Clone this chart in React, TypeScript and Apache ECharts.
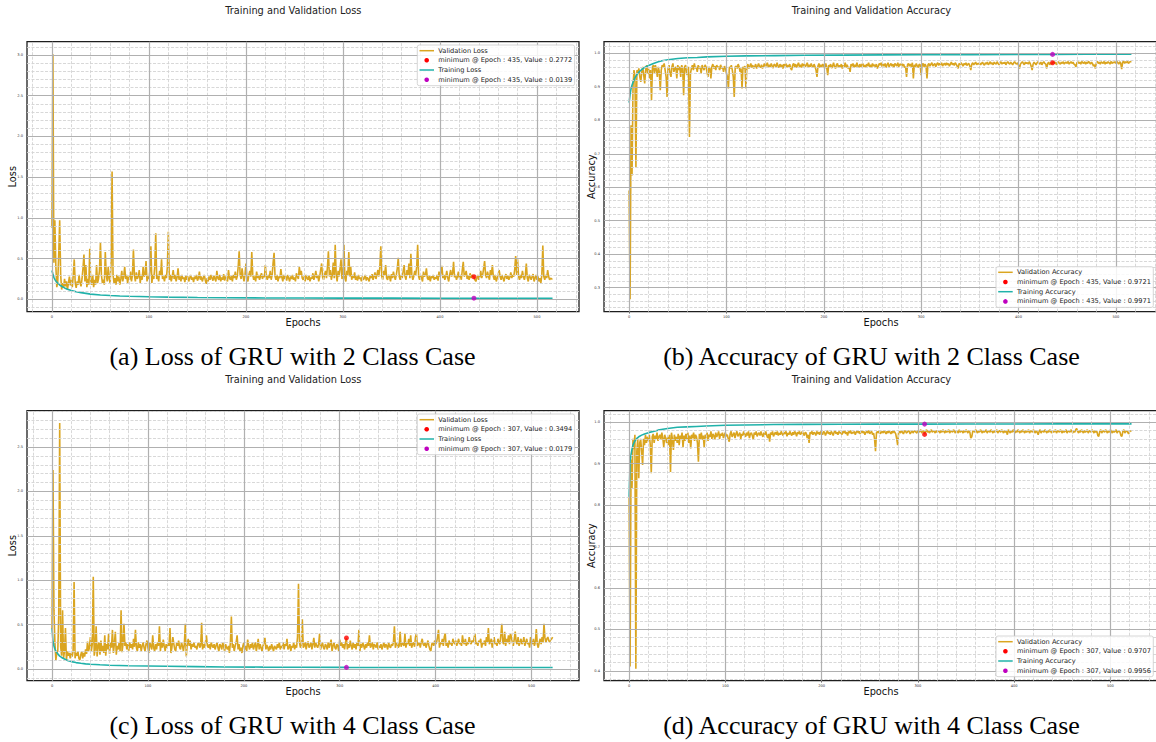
import React, { useEffect, useRef } from "react";
import * as echarts from "echarts";

// ---------- data ----------
const EPOCH_TICKS = [0, 100, 200, 300, 400, 500];
const LOSS_A_TICKS = [0, 0.5, 1.0, 1.5, 2.0, 2.5, 3.0];
const ACC_B_TICKS = [0.3, 0.4, 0.5, 0.6, 0.7, 0.8, 0.9, 1.0];
const LOSS_C_TICKS = [0, 0.5, 1.0, 1.5, 2.0, 2.5];
const ACC_D_TICKS = [0.4, 0.5, 0.6, 0.7, 0.8, 0.9, 1.0];

// (a) validation loss, one value per epoch 0..516
const valLossA = [
  0.88,3.01,0.45,0.97,0.42,0.15,0.22,0.55,0.97,0.30,0.12,0.20,0.14,0.25,0.16,0.22,0.12,0.20,0.28,0.17,
  0.24,0.15,0.30,0.49,0.20,0.14,0.22,0.18,0.30,0.20,0.16,0.25,0.38,0.55,0.22,0.42,0.15,0.25,0.18,0.62,
  0.20,0.18,0.30,0.15,0.24,0.18,0.42,0.20,0.25,0.35,0.70,0.30,0.20,0.24,0.18,0.58,0.30,0.22,0.40,0.25,
  0.20,0.45,1.57,0.30,0.20,0.26,0.18,0.30,0.22,0.28,0.18,0.25,0.35,0.22,0.28,0.40,0.25,0.30,0.20,0.28,
  0.24,0.34,0.22,0.30,0.61,0.30,0.22,0.33,0.25,0.28,0.36,0.20,0.30,0.24,0.40,0.28,0.30,0.47,0.22,0.28,
  0.25,0.35,0.65,0.20,0.30,0.25,0.40,0.81,0.25,0.30,0.22,0.35,0.30,0.49,0.25,0.28,0.22,0.30,0.26,0.40,
  0.83,0.24,0.30,0.22,0.28,0.36,0.25,0.30,0.22,0.27,0.38,0.24,0.28,0.22,0.30,0.25,0.27,0.21,0.29,0.24,
  0.28,0.22,0.26,0.30,0.24,0.27,0.21,0.28,0.25,0.30,0.23,0.26,0.34,0.24,0.28,0.22,0.26,0.30,0.24,0.19,
  0.26,0.22,0.28,0.24,0.30,0.26,0.23,0.29,0.25,0.22,0.35,0.26,0.24,0.30,0.22,0.27,0.24,0.31,0.23,0.28,
  0.25,0.22,0.36,0.26,0.24,0.29,0.22,0.30,0.26,0.34,0.24,0.28,0.40,0.59,0.30,0.25,0.38,0.28,0.22,0.30,
  0.44,0.26,0.22,0.30,0.35,0.28,0.58,0.30,0.24,0.28,0.22,0.34,0.26,0.30,0.24,0.28,0.32,0.25,0.30,0.27,
  0.42,0.28,0.24,0.30,0.26,0.35,0.24,0.30,0.45,0.57,0.28,0.24,0.30,0.22,0.28,0.26,0.37,0.27,0.22,0.30,
  0.25,0.28,0.23,0.30,0.26,0.22,0.28,0.25,0.30,0.24,0.27,0.22,0.32,0.28,0.25,0.40,0.30,0.35,0.26,0.24,
  0.28,0.22,0.30,0.26,0.24,0.29,0.22,0.27,0.25,0.32,0.24,0.28,0.35,0.26,0.30,0.22,0.28,0.36,0.44,0.27,
  0.24,0.30,0.35,0.26,0.40,0.59,0.28,0.36,0.24,0.30,0.45,0.26,0.67,0.30,0.22,0.35,0.28,0.38,0.49,0.25,
  0.30,0.67,0.26,0.22,0.35,0.30,0.58,0.28,0.40,0.24,0.30,0.26,0.33,0.24,0.28,0.23,0.30,0.25,0.27,0.22,
  0.28,0.24,0.26,0.30,0.23,0.27,0.25,0.22,0.29,0.26,0.31,0.24,0.28,0.33,0.25,0.30,0.36,0.28,0.40,0.65,
  0.28,0.24,0.35,0.30,0.42,0.26,0.24,0.30,0.28,0.22,0.31,0.26,0.34,0.28,0.24,0.30,0.38,0.51,0.28,0.24,
  0.30,0.26,0.34,0.42,0.28,0.24,0.36,0.30,0.44,0.26,0.56,0.30,0.24,0.28,0.35,0.30,0.40,0.67,0.28,0.24,
  0.30,0.26,0.22,0.34,0.28,0.30,0.38,0.26,0.24,0.29,0.22,0.28,0.26,0.30,0.24,0.27,0.25,0.30,0.23,0.34,
  0.28,0.33,0.41,0.26,0.30,0.24,0.28,0.35,0.26,0.22,0.30,0.36,0.28,0.32,0.46,0.27,0.30,0.24,0.28,0.34,
  0.26,0.30,0.24,0.36,0.46,0.28,0.30,0.35,0.25,0.29,0.24,0.32,0.26,0.30,0.28,0.2772,0.24,0.22,0.26,0.30,
  0.24,0.28,0.35,0.26,0.30,0.38,0.47,0.30,0.26,0.34,0.28,0.24,0.36,0.30,0.42,0.28,0.24,0.30,0.22,0.26,
  0.30,0.36,0.28,0.24,0.30,0.26,0.22,0.28,0.31,0.25,0.29,0.24,0.27,0.33,0.26,0.30,0.28,0.36,0.53,0.30,
  0.49,0.28,0.24,0.30,0.26,0.35,0.28,0.24,0.30,0.44,0.26,0.22,0.30,0.27,0.24,0.28,0.31,0.22,0.26,0.30,
  0.24,0.28,0.22,0.26,0.20,0.30,0.66,0.28,0.24,0.30,0.26,0.36,0.28,0.24,0.26,0.25,0.25,
];
const trainEpochsA = [0,1,2,3,4,6,8,10,13,16,20,25,30,35,40,50,60,70,80,100,120,150,180,220,260,300,350,400,435,470,516];
const trainLossA = [0.354,0.31,0.27,0.245,0.225,0.2,0.175,0.16,0.14,0.125,0.107,0.093,0.082,0.073,0.064,0.053,0.046,0.041,0.037,0.031,0.027,0.022,0.019,0.017,0.016,0.015,0.0145,0.014,0.0139,0.014,0.014];

// (b) validation accuracy, one value per epoch 0..516
const valAccB = [
  0.59,0.265,0.785,0.635,0.90,0.95,0.93,0.66,0.95,0.94,0.955,0.93,0.915,0.945,0.96,0.935,0.91,0.95,0.965,0.94,
  0.955,0.925,0.95,0.86,0.96,0.965,0.94,0.965,0.95,0.93,0.96,0.945,0.89,0.95,0.965,0.96,0.97,0.95,0.93,0.87,
  0.955,0.965,0.94,0.93,0.96,0.97,0.945,0.955,0.96,0.925,0.965,0.95,0.96,0.93,0.965,0.955,0.875,0.96,0.965,0.94,
  0.935,0.96,0.75,0.94,0.955,0.965,0.95,0.97,0.955,0.96,0.945,0.965,0.955,0.96,0.94,0.965,0.958,0.95,0.966,0.96,
  0.945,0.93,0.96,0.955,0.925,0.96,0.968,0.955,0.962,0.95,0.965,0.958,0.96,0.95,0.966,0.955,0.96,0.945,0.962,0.955,
  0.94,0.93,0.895,0.96,0.955,0.965,0.95,0.93,0.87,0.96,0.962,0.955,0.968,0.96,0.945,0.955,0.895,0.96,0.955,0.962,
  0.895,0.96,0.968,0.955,0.962,0.97,0.958,0.965,0.955,0.96,0.968,0.955,0.962,0.97,0.96,0.958,0.966,0.955,0.962,0.97,
  0.96,0.965,0.972,0.958,0.966,0.96,0.97,0.962,0.956,0.968,0.965,0.96,0.972,0.962,0.958,0.968,0.96,0.966,0.955,0.968,
  0.962,0.97,0.958,0.965,0.96,0.968,0.955,0.95,0.965,0.97,0.96,0.968,0.958,0.965,0.972,0.96,0.966,0.958,0.97,0.962,
  0.968,0.96,0.965,0.972,0.958,0.966,0.96,0.97,0.962,0.958,0.968,0.96,0.95,0.93,0.962,0.97,0.958,0.966,0.96,0.968,
  0.962,0.955,0.97,0.958,0.935,0.965,0.96,0.968,0.956,0.962,0.972,0.96,0.955,0.966,0.97,0.958,0.964,0.96,0.968,0.955,
  0.965,0.96,0.972,0.958,0.966,0.955,0.96,0.945,0.968,0.962,0.97,0.958,0.966,0.96,0.972,0.962,0.958,0.968,0.96,0.966,
  0.97,0.96,0.965,0.958,0.968,0.962,0.972,0.96,0.966,0.958,0.97,0.962,0.966,0.96,0.968,0.955,0.962,0.97,0.965,0.972,
  0.96,0.968,0.962,0.97,0.958,0.966,0.972,0.96,0.965,0.97,0.962,0.968,0.958,0.97,0.966,0.962,0.972,0.96,0.968,0.965,
  0.97,0.962,0.968,0.958,0.96,0.93,0.966,0.97,0.962,0.968,0.96,0.972,0.925,0.966,0.96,0.97,0.962,0.958,0.968,0.966,
  0.935,0.966,0.97,0.96,0.968,0.962,0.925,0.966,0.97,0.962,0.968,0.972,0.962,0.966,0.97,0.96,0.968,0.972,0.964,0.97,
  0.966,0.972,0.962,0.968,0.97,0.964,0.972,0.966,0.97,0.962,0.968,0.974,0.966,0.97,0.964,0.972,0.968,0.962,0.955,0.97,
  0.966,0.972,0.968,0.962,0.97,0.966,0.972,0.964,0.968,0.97,0.962,0.95,0.968,0.972,0.966,0.97,0.974,0.966,0.97,0.968,
  0.972,0.966,0.97,0.974,0.968,0.965,0.972,0.968,0.974,0.966,0.97,0.975,0.968,0.972,0.966,0.974,0.97,0.968,0.975,0.97,
  0.966,0.972,0.975,0.968,0.972,0.97,0.974,0.966,0.972,0.975,0.97,0.968,0.974,0.97,0.966,0.972,0.975,0.97,0.968,0.972,
  0.965,0.955,0.968,0.972,0.975,0.97,0.966,0.974,0.97,0.972,0.968,0.975,0.97,0.962,0.95,0.968,0.974,0.97,0.966,0.972,
  0.975,0.97,0.968,0.974,0.966,0.972,0.975,0.97,0.968,0.955,0.97,0.974,0.966,0.972,0.968,0.9721,0.975,0.97,0.974,0.966,
  0.972,0.975,0.97,0.968,0.974,0.97,0.975,0.968,0.972,0.974,0.97,0.976,0.968,0.972,0.975,0.97,0.974,0.968,0.966,0.96,
  0.972,0.975,0.97,0.974,0.968,0.976,0.972,0.97,0.975,0.968,0.974,0.97,0.976,0.972,0.968,0.974,0.97,0.962,0.966,0.955,
  0.972,0.976,0.97,0.974,0.968,0.975,0.972,0.97,0.976,0.968,0.974,0.97,0.975,0.972,0.968,0.976,0.97,0.974,0.972,0.975,
  0.97,0.976,0.972,0.968,0.975,0.97,0.953,0.974,0.976,0.97,0.975,0.972,0.976,0.97,0.974,0.975,0.976,
];
const trainEpochsB = [0,1,2,3,4,6,8,10,13,16,20,25,30,35,40,50,60,70,80,100,120,150,180,220,260,300,350,400,435,470,516];
const trainAccB = [0.853,0.878,0.895,0.905,0.914,0.927,0.937,0.944,0.952,0.958,0.964,0.97,0.975,0.979,0.981,0.985,0.987,0.988,0.9895,0.9915,0.9925,0.9935,0.9945,0.995,0.9955,0.996,0.9965,0.997,0.9971,0.9973,0.9975];

// (c) validation loss, one value per epoch 0..522
const valLossC = [
  0.45,2.24,0.66,0.30,0.10,0.18,0.20,0.60,2.77,0.25,0.15,0.66,0.12,0.20,0.46,0.10,0.20,0.15,0.18,0.12,
  0.18,0.14,0.20,0.98,0.12,0.18,0.15,0.20,0.12,0.10,0.16,0.20,0.12,0.18,0.14,0.22,0.17,0.31,0.20,0.24,
  0.36,0.20,0.28,1.04,0.15,0.22,0.48,0.14,0.26,0.30,0.16,0.32,0.20,0.26,0.18,0.38,0.15,0.28,0.22,0.40,
  0.17,0.30,0.24,0.44,0.18,0.28,0.42,0.16,0.26,0.22,0.30,0.20,0.66,0.19,0.28,0.51,0.26,0.30,0.22,0.28,
  0.20,0.30,0.24,0.28,0.22,0.34,0.25,0.44,0.24,0.20,0.30,0.24,0.28,0.20,0.26,0.30,0.24,0.20,0.28,0.32,
  0.24,0.18,0.30,0.26,0.22,0.38,0.24,0.20,0.28,0.22,0.30,0.26,0.48,0.20,0.30,0.24,0.33,0.26,0.20,0.28,
  0.24,0.30,0.26,0.46,0.18,0.24,0.36,0.28,0.22,0.20,0.30,0.26,0.32,0.24,0.22,0.30,0.26,0.20,0.28,0.51,
  0.14,0.28,0.34,0.26,0.32,0.22,0.28,0.25,0.30,0.24,0.26,0.22,0.28,0.30,0.24,0.26,0.52,0.22,0.28,0.24,
  0.30,0.38,0.26,0.24,0.28,0.22,0.30,0.26,0.24,0.28,0.22,0.26,0.30,0.24,0.20,0.28,0.26,0.22,0.30,0.25,
  0.20,0.28,0.24,0.22,0.26,0.18,0.30,0.59,0.24,0.28,0.20,0.26,0.30,0.38,0.22,0.28,0.20,0.24,0.18,0.26,
  0.30,0.22,0.26,0.20,0.33,0.26,0.22,0.28,0.24,0.30,0.22,0.26,0.30,0.20,0.26,0.34,0.22,0.28,0.24,0.20,
  0.26,0.30,0.35,0.22,0.27,0.24,0.20,0.26,0.22,0.28,0.24,0.20,0.26,0.24,0.22,0.28,0.24,0.30,0.22,0.26,
  0.24,0.30,0.22,0.28,0.26,0.34,0.22,0.24,0.28,0.20,0.26,0.24,0.30,0.22,0.27,0.24,0.36,0.96,0.30,0.24,
  0.28,0.56,0.24,0.26,0.30,0.22,0.28,0.31,0.24,0.26,0.30,0.22,0.28,0.35,0.24,0.30,0.26,0.24,0.28,0.40,
  0.22,0.26,0.30,0.24,0.22,0.28,0.26,0.22,0.30,0.24,0.28,0.33,0.20,0.26,0.30,0.24,0.22,0.28,0.26,0.20,
  0.33,0.26,0.30,0.24,0.28,0.22,0.30,0.3494,0.22,0.28,0.24,0.32,0.26,0.22,0.30,0.24,0.28,0.22,0.30,0.26,
  0.44,0.20,0.28,0.24,0.30,0.26,0.22,0.28,0.24,0.30,0.26,0.38,0.24,0.26,0.30,0.22,0.28,0.26,0.24,0.30,
  0.22,0.26,0.24,0.28,0.22,0.26,0.30,0.24,0.28,0.26,0.22,0.30,0.25,0.24,0.28,0.26,0.30,0.48,0.24,0.28,
  0.30,0.24,0.26,0.42,0.25,0.30,0.28,0.26,0.40,0.24,0.30,0.28,0.34,0.26,0.38,0.24,0.28,0.30,0.25,0.36,
  0.40,0.26,0.28,0.30,0.24,0.30,0.34,0.28,0.26,0.30,0.24,0.28,0.32,0.26,0.22,0.20,0.28,0.30,0.26,0.32,
  0.28,0.30,0.36,0.44,0.24,0.30,0.28,0.34,0.26,0.36,0.40,0.26,0.30,0.24,0.32,0.28,0.30,0.26,0.34,0.30,
  0.28,0.32,0.26,0.30,0.34,0.28,0.30,0.26,0.38,0.30,0.28,0.34,0.26,0.30,0.28,0.36,0.30,0.28,0.32,0.30,
  0.34,0.40,0.28,0.30,0.26,0.32,0.30,0.34,0.24,0.30,0.28,0.32,0.26,0.36,0.30,0.46,0.28,0.30,0.34,0.24,
  0.30,0.36,0.28,0.30,0.26,0.34,0.30,0.28,0.38,0.51,0.30,0.28,0.42,0.26,0.34,0.30,0.38,0.28,0.40,0.36,
  0.30,0.26,0.34,0.42,0.30,0.28,0.36,0.26,0.30,0.34,0.28,0.30,0.36,0.26,0.30,0.34,0.28,0.30,0.24,0.36,
  0.30,0.28,0.34,0.26,0.30,0.45,0.28,0.24,0.30,0.34,0.28,0.36,0.30,0.51,0.35,0.30,0.34,0.36,0.32,0.30,0.33,0.34,0.36,
];
const trainEpochsC = [0,1,2,3,4,6,8,10,13,16,20,25,30,35,40,50,60,70,80,100,120,150,180,220,260,307,350,400,450,522];
const trainLossC = [0.457,0.31,0.26,0.225,0.2,0.17,0.145,0.13,0.112,0.097,0.083,0.072,0.064,0.058,0.054,0.047,0.042,0.039,0.036,0.033,0.03,0.026,0.023,0.021,0.02,0.0179,0.0175,0.017,0.017,0.0165];

// (d) validation accuracy, one value per epoch 0..522
const valAccD = [
  0.82,0.41,0.91,0.84,0.96,0.935,0.97,0.405,0.93,0.96,0.865,0.95,0.96,0.93,0.897,0.96,0.945,0.97,0.95,0.965,
  0.955,0.97,0.945,0.877,0.965,0.972,0.95,0.968,0.96,0.975,0.955,0.965,0.97,0.958,0.975,0.962,0.94,0.97,0.96,0.95,
  0.965,0.945,0.97,0.88,0.975,0.96,0.933,0.97,0.955,0.965,0.95,0.972,0.945,0.968,0.96,0.975,0.94,0.968,0.955,0.972,
  0.96,0.975,0.95,0.968,0.937,0.97,0.962,0.975,0.955,0.97,0.965,0.95,0.905,0.972,0.96,0.975,0.958,0.968,0.94,0.97,
  0.962,0.975,0.955,0.97,0.965,0.978,0.96,0.972,0.968,0.958,0.975,0.965,0.97,0.978,0.96,0.972,0.968,0.975,0.962,0.97,
  0.975,0.966,0.97,0.96,0.953,0.972,0.978,0.965,0.97,0.975,0.962,0.972,0.978,0.966,0.97,0.975,0.96,0.972,0.968,0.978,
  0.97,0.965,0.975,0.968,0.978,0.962,0.972,0.975,0.968,0.958,0.975,0.97,0.978,0.966,0.972,0.975,0.968,0.978,0.97,0.965,
  0.975,0.97,0.978,0.968,0.962,0.972,0.953,0.975,0.97,0.978,0.966,0.972,0.976,0.97,0.978,0.968,0.974,0.97,0.978,0.972,
  0.968,0.976,0.972,0.978,0.966,0.974,0.97,0.978,0.972,0.968,0.976,0.97,0.978,0.974,0.966,0.976,0.972,0.978,0.97,0.974,
  0.978,0.972,0.968,0.976,0.974,0.962,0.97,0.95,0.976,0.972,0.978,0.97,0.976,0.974,0.968,0.978,0.972,0.976,0.97,0.978,
  0.974,0.97,0.978,0.976,0.968,0.974,0.98,0.972,0.976,0.97,0.978,0.974,0.968,0.976,0.98,0.972,0.976,0.97,0.978,0.974,
  0.976,0.97,0.978,0.974,0.98,0.972,0.976,0.968,0.978,0.974,0.98,0.972,0.976,0.974,0.978,0.97,0.976,0.98,0.974,0.978,
  0.972,0.976,0.98,0.974,0.978,0.97,0.976,0.978,0.974,0.98,0.972,0.976,0.978,0.97,0.974,0.96,0.93,0.975,0.978,0.974,
  0.98,0.972,0.976,0.978,0.974,0.98,0.976,0.972,0.978,0.974,0.98,0.976,0.972,0.978,0.974,0.98,0.976,0.972,0.96,0.945,
  0.975,0.978,0.974,0.98,0.976,0.972,0.978,0.98,0.974,0.976,0.98,0.978,0.972,0.976,0.98,0.974,0.978,0.98,0.976,0.974,
  0.98,0.976,0.978,0.982,0.974,0.978,0.98,0.9707,0.978,0.982,0.976,0.98,0.974,0.978,0.982,0.976,0.98,0.978,0.974,0.98,
  0.976,0.98,0.978,0.974,0.98,0.976,0.982,0.978,0.974,0.98,0.976,0.978,0.982,0.974,0.978,0.98,0.976,0.982,0.978,0.974,
  0.98,0.978,0.974,0.982,0.976,0.98,0.978,0.974,0.98,0.976,0.982,0.978,0.974,0.98,0.976,0.962,0.965,0.978,0.98,0.976,
  0.982,0.978,0.974,0.98,0.976,0.982,0.978,0.974,0.98,0.976,0.978,0.982,0.974,0.978,0.98,0.976,0.982,0.978,0.974,0.98,
  0.976,0.978,0.982,0.974,0.978,0.98,0.976,0.982,0.978,0.974,0.98,0.976,0.978,0.97,0.982,0.978,0.974,0.98,0.976,0.982,
  0.978,0.974,0.98,0.976,0.982,0.978,0.974,0.98,0.976,0.982,0.978,0.974,0.98,0.976,0.978,0.982,0.974,0.978,0.98,0.976,
  0.982,0.978,0.974,0.98,0.976,0.97,0.978,0.982,0.974,0.978,0.98,0.976,0.982,0.978,0.974,0.98,0.976,0.982,0.978,0.974,
  0.98,0.976,0.978,0.982,0.974,0.978,0.98,0.976,0.982,0.978,0.974,0.98,0.976,0.978,0.982,0.974,0.978,0.98,0.976,0.982,
  0.978,0.974,0.98,0.976,0.982,0.985,0.978,0.974,0.98,0.976,0.982,0.978,0.974,0.98,0.976,0.978,0.982,0.974,0.978,0.98,
  0.976,0.982,0.978,0.974,0.98,0.976,0.978,0.968,0.966,0.978,0.982,0.974,0.978,0.98,0.976,0.982,0.978,0.974,0.98,0.976,
  0.982,0.978,0.974,0.98,0.976,0.978,0.982,0.974,0.978,0.98,0.976,0.968,0.966,0.978,0.982,0.974,0.978,0.98,0.976,0.972,0.978,0.98,0.978,
];
const trainEpochsD = [0,1,2,3,4,6,8,10,13,16,20,25,30,35,40,50,60,70,80,100,120,150,180,220,260,307,350,400,450,522];
const trainAccD = [0.82,0.905,0.922,0.935,0.945,0.955,0.961,0.965,0.969,0.972,0.975,0.978,0.981,0.983,0.985,0.988,0.989,0.99,0.991,0.993,0.9935,0.9945,0.995,0.9953,0.9955,0.9956,0.9958,0.996,0.9962,0.9963];

// best-epoch markers [epoch, validation value, training value]
const BEST_A = [435, 0.2772, 0.0139];
const BEST_B = [435, 0.9721, 0.9971];
const BEST_C = [307, 0.3494, 0.0179];
const BEST_D = [307, 0.9707, 0.9956];

const VAL_COLOR = "#DAA520";
const TRAIN_COLOR = "#20B2AA";
const RED = "#ff0000";
const MAGENTA = "#bf00bf";
const SANS = "DejaVu Sans";

function rangeVals(start: number, end: number, step: number): number[] {
  const out: number[] = [];
  const n = Math.round((end - start) / step);
  for (let i = 0; i <= n; i++) out.push(Math.round((start + i * step) * 10000) / 10000);
  return out;
}

type Panel = {
  left: number; top: number; width: number; height: number;
  xMin: number; xMax: number; yMin: number; yMax: number;
  yMajor: number[]; yMinorStart: number; yMinorEnd: number; yMinorStep: number;
  val: number[]; trE: number[]; tr: number[]; best: number[];
  valName: string; trName: string; ylabel: string; ylabelGap: number;
  title: string; titleX: number; titleY: number;
  caption: string; captionX: number; captionY: number;
  legX: number; legY: number; legRows: number[];
};

const PANELS: Panel[] = [
  {
    left: 27, top: 41.7, width: 552, height: 270, xMin: -25.7, xMax: 543.3, yMin: -0.152, yMax: 3.163,
    yMajor: LOSS_A_TICKS, yMinorStart: -0.1, yMinorEnd: 3.1, yMinorStep: 0.1,
    val: valLossA, trE: trainEpochsA, tr: trainLossA, best: BEST_A,
    valName: "Validation Loss", trName: "Training Loss", ylabel: "Loss", ylabelGap: 14.1,
    title: "Training and Validation Loss", titleX: 293.3, titleY: 10,
    caption: "(a) Loss of GRU with 2 Class Case", captionX: 292.5, captionY: 356,
    legX: 417.3, legY: 45, legRows: [50.7, 60.3, 70, 79.7],
  },
  {
    left: 604, top: 41.7, width: 554, height: 270, xMin: -25.8, xMax: 543.3, yMin: 0.228, yMax: 1.035,
    yMajor: ACC_B_TICKS, yMinorStart: 0.24, yMinorEnd: 1.02, yMinorStep: 0.02,
    val: valAccB, trE: trainEpochsB, tr: trainAccB, best: BEST_B,
    valName: "Validation Accuracy", trName: "Training Accuracy", ylabel: "Accuracy", ylabelGap: 13,
    title: "Training and Validation Accuracy", titleX: 871.4, titleY: 10,
    caption: "(b) Accuracy of GRU with 2 Class Case", captionX: 871.5, captionY: 356,
    legX: 996, legY: 266.7, legRows: [272.3, 282, 291.7, 301.4],
  },
  {
    left: 27, top: 410.7, width: 552, height: 270, xMin: -26.1, xMax: 549.5, yMin: -0.132, yMax: 2.909,
    yMajor: LOSS_C_TICKS, yMinorStart: -0.1, yMinorEnd: 2.9, yMinorStep: 0.1,
    val: valLossC, trE: trainEpochsC, tr: trainLossC, best: BEST_C,
    valName: "Validation Loss", trName: "Training Loss", ylabel: "Loss", ylabelGap: 14.1,
    title: "Training and Validation Loss", titleX: 293.3, titleY: 379.3,
    caption: "(c) Loss of GRU with 4 Class Case", captionX: 292.5, captionY: 725.5,
    legX: 417.3, legY: 414, legRows: [419.7, 429.3, 439, 448.7],
  },
  {
    left: 604, top: 410.7, width: 554, height: 270, xMin: -26.1, xMax: 549.5, yMin: 0.376, yMax: 1.028,
    yMajor: ACC_D_TICKS, yMinorStart: 0.38, yMinorEnd: 1.02, yMinorStep: 0.02,
    val: valAccD, trE: trainEpochsD, tr: trainAccD, best: BEST_D,
    valName: "Validation Accuracy", trName: "Training Accuracy", ylabel: "Accuracy", ylabelGap: 13,
    title: "Training and Validation Accuracy", titleX: 871.4, titleY: 379.3,
    caption: "(d) Accuracy of GRU with 4 Class Case", captionX: 871.5, captionY: 725.5,
    legX: 996, legY: 636, legRows: [641.7, 651.3, 661, 670.7],
  },
];

function buildOption() {
  const grid: any[] = [];
  const xAxis: any[] = [];
  const yAxis: any[] = [];
  const series: any[] = [];
  const graphic: any[] = [];

  const xMinor = rangeVals(-20, 540, 20).filter((v) => v % 100 !== 0);

  PANELS.forEach((p, i) => {
    grid.push({
      left: p.left, top: p.top, width: p.width, height: p.height,
      show: true, borderColor: "#1e1e1e", borderWidth: 1.3, backgroundColor: "transparent",
      containLabel: false, outerBoundsMode: "none",
    });
    const nameStyle = { fontSize: 9.8, fontFamily: SANS, color: "#111", verticalAlign: "middle", align: "center" };
    xAxis.push({
      type: "value", gridIndex: i, min: p.xMin, max: p.xMax,
      axisLine: { show: false }, splitLine: { show: false },
      axisTick: { show: true, customValues: EPOCH_TICKS, length: 2, lineStyle: { color: "#333", width: 0.6 } },
      axisLabel: { customValues: EPOCH_TICKS, fontSize: 3.6, color: "#333", margin: 3, fontFamily: SANS },
      name: "Epochs", nameLocation: "middle", nameGap: 10.3, nameTextStyle: nameStyle, nameMoveOverlap: false,
    });
    yAxis.push({
      type: "value", gridIndex: i, min: p.yMin, max: p.yMax,
      axisLine: { show: false }, splitLine: { show: false },
      axisTick: { show: true, customValues: p.yMajor, length: 2, lineStyle: { color: "#333", width: 0.6 } },
      axisLabel: { customValues: p.yMajor, fontSize: 3.6, color: "#333", margin: 4, fontFamily: SANS, formatter: (v: number) => v.toFixed(1) },
      name: p.ylabel, nameLocation: "middle", nameGap: p.ylabelGap, nameRotate: 90, nameTextStyle: nameStyle, nameMoveOverlap: false,
    });

    const majorSet = new Set(p.yMajor.map((v) => v.toFixed(3)));
    const yMinor = rangeVals(p.yMinorStart, p.yMinorEnd, p.yMinorStep).filter((v) => !majorSet.has(v.toFixed(3)));

    // minor grid lines
    series.push({
      type: "line", xAxisIndex: i, yAxisIndex: i, data: [], silent: true, z: 1,
      markLine: {
        silent: true, symbol: ["none", "none"], label: { show: false }, animation: false,
        emphasis: { disabled: true },
        lineStyle: { color: "#d4d4d4", width: 0.9, type: [3, 1.5] },
        data: [...xMinor.map((v) => ({ xAxis: v })), ...yMinor.map((v) => ({ yAxis: v }))],
      },
    });
    // major grid lines
    series.push({
      type: "line", xAxisIndex: i, yAxisIndex: i, data: [], silent: true, z: 2,
      markLine: {
        silent: true, symbol: ["none", "none"], label: { show: false }, animation: false,
        emphasis: { disabled: true },
        lineStyle: { color: "#b0b0b0", width: 1.2, type: "solid" },
        data: [...EPOCH_TICKS.map((v) => ({ xAxis: v })), ...p.yMajor.map((v) => ({ yAxis: v }))],
      },
    });
    series.push({
      name: p.valName, type: "line", xAxisIndex: i, yAxisIndex: i, z: 3,
      data: p.val.map((v, k) => [k, v]), showSymbol: false, symbol: "none",
      lineStyle: { color: VAL_COLOR, width: 1.6 }, silent: true,
    });
    series.push({
      name: p.trName, type: "line", xAxisIndex: i, yAxisIndex: i, z: 4,
      data: p.trE.map((e, k) => [e, p.tr[k]]), showSymbol: false, symbol: "none",
      lineStyle: { color: TRAIN_COLOR, width: 1.6 }, silent: true,
    });
    series.push({
      type: "scatter", xAxisIndex: i, yAxisIndex: i, z: 5, symbolSize: 5, silent: true,
      data: [[p.best[0], p.best[1]]], itemStyle: { color: RED },
    });
    series.push({
      type: "scatter", xAxisIndex: i, yAxisIndex: i, z: 5, symbolSize: 5, silent: true,
      data: [[p.best[0], p.best[2]]], itemStyle: { color: MAGENTA },
    });

    // titles and captions
    graphic.push({
      type: "text", x: p.titleX, y: p.titleY, z: 50,
      style: { text: p.title, fontSize: 9.8, fontFamily: SANS, fill: "#222", align: "center", verticalAlign: "middle" },
    });
    graphic.push({
      type: "text", x: p.captionX, y: p.captionY, z: 50,
      style: { text: p.caption, fontSize: 26, fontFamily: "Liberation Serif", fill: "#000", align: "center", verticalAlign: "middle" },
    });

    // legend box
    const lx = p.legX;
    graphic.push({
      type: "rect", z: 60, shape: { x: lx, y: p.legY, width: 157.3, height: 40.7, r: 2 },
      style: { fill: "rgba(255,255,255,0.85)", stroke: "#cccccc", lineWidth: 0.8 },
    });
    const labels = [
      p.valName,
      `minimum @ Epoch : ${p.best[0]}, Value : ${p.best[1].toFixed(4)}`,
      p.trName,
      `minimum @ Epoch : ${p.best[0]}, Value : ${p.best[2].toFixed(4)}`,
    ];
    labels.forEach((t, k) => {
      const ry = p.legRows[k];
      if (k === 0 || k === 2) {
        graphic.push({
          type: "line", z: 61, shape: { x1: lx + 2.2, y1: ry, x2: lx + 16.7, y2: ry },
          style: { stroke: k === 0 ? VAL_COLOR : TRAIN_COLOR, lineWidth: 1.5 },
        });
      } else {
        graphic.push({
          type: "circle", z: 61, shape: { cx: lx + 9.4, cy: ry, r: 2.3 },
          style: { fill: k === 1 ? RED : MAGENTA },
        });
      }
      graphic.push({
        type: "text", z: 61, x: lx + 21, y: ry,
        style: { text: t, fontSize: 6.65, fontFamily: SANS, fill: "#222", align: "left", verticalAlign: "middle" },
      });
    });
  });

  return {
    animation: false,
    backgroundColor: "#ffffff",
    grid, xAxis, yAxis, series, graphic,
  };
}

export default function App() {
  const ref = useRef<HTMLDivElement>(null);
  useEffect(() => {
    if (!ref.current) return;
    const chart = echarts.init(ref.current, undefined, { renderer: "svg" });
    chart.setOption(buildOption() as any);
    return () => chart.dispose();
  }, []);
  return (
    <div
      ref={ref}
      style={{ position: "absolute", left: 0, top: 0, width: 1156, height: 742, background: "#fff" }}
    />
  );
}
